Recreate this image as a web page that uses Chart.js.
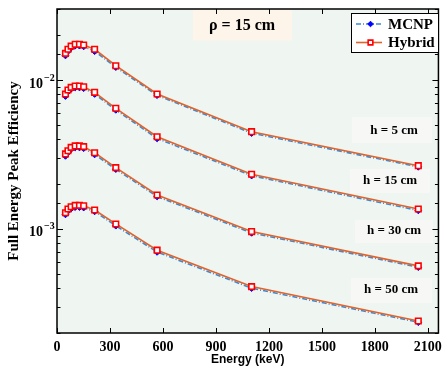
<!DOCTYPE html>
<html>
<head>
<meta charset="utf-8">
<script src="https://cdn.jsdelivr.net/npm/chart.js@4/dist/chart.umd.min.js"></script>
<style>
html, body { margin: 0; padding: 0; background: #fff; }
#wrap { width: 448px; height: 371px; }
</style>
</head>
<body>
<div id="wrap"><canvas id="effChart"></canvas></div>
<script>
// energies (keV) and efficiencies
const energies = [48, 62, 80, 103, 127, 151, 213, 333, 567, 1102, 2046];

const hybrid5  = [0.0151, 0.0161, 0.0169, 0.0174, 0.0174, 0.0172, 0.0161, 0.01248, 0.00806, 0.0045, 0.00266];
const mcnp5    = [0.0146, 0.0156, 0.0165, 0.0170, 0.0170, 0.0168, 0.0156, 0.0122, 0.0079, 0.0044, 0.00261];
const hybrid15 = [0.00805, 0.00857, 0.00893, 0.00911, 0.00911, 0.00902, 0.00827, 0.00646, 0.00416, 0.00233, 0.00136];
const mcnp15   = [0.00780, 0.00835, 0.00872, 0.00890, 0.00890, 0.00880, 0.00805, 0.00630, 0.00405, 0.00228, 0.00133];
const hybrid30 = [0.00319, 0.00335, 0.00353, 0.00361, 0.00361, 0.00357, 0.00325, 0.00258, 0.00169, 0.00096, 0.000565];
const mcnp30   = [0.00309, 0.00326, 0.00344, 0.00352, 0.00352, 0.00348, 0.00316, 0.00252, 0.00165, 0.00094, 0.000553];
const hybrid50 = [0.001285, 0.00136, 0.00141, 0.00144, 0.00144, 0.00143, 0.00134, 0.00108, 0.00072, 0.00041, 0.000241];
const mcnp50   = [0.00125, 0.00132, 0.00137, 0.00140, 0.00140, 0.00139, 0.00131, 0.00105, 0.00070, 0.000400, 0.000236];

const xTicks = [0, 300, 600, 900, 1200, 1500, 1800, 2100];
const seriesNames = ['MCNP', 'Hybrid'];
const heightLabels = ['h = 5 cm', 'h = 15 cm', 'h = 30 cm', 'h = 50 cm'];
const titleLabel = '\u03c1 = 15 cm';

const SERIF = '"Liberation Serif", "Times New Roman", serif';
const orange = '#e2622a';
const blueLine = '#3b8ad2';

function pts(ys) {
    return energies.map((e, i) => ({x: e, y: ys[i]}));
}
function hybridSet(ys) {
    return {
        label: 'Hybrid', data: pts(ys),
        borderColor: orange, borderWidth: 1.6,
        pointStyle: 'rect', pointRadius: 3.9,
        pointBorderColor: '#ff0000', pointBackgroundColor: '#ffffff', pointBorderWidth: 1.6
    };
}
function mcnpSet(ys) {
    return {
        label: 'MCNP', data: pts(ys),
        borderColor: blueLine, borderWidth: 1.6, borderDash: [5, 2, 1, 2],
        pointStyle: 'rectRot', pointRadius: 3.3,
        pointBorderColor: '#0000ff', pointBackgroundColor: '#0000ff', pointBorderWidth: 1
    };
}

// frame, inner ticks, text boxes and legend
const decor = {
    id: 'decor',
    beforeDraw(chart) {
        const {ctx, chartArea: a} = chart;
        ctx.save();
        ctx.fillStyle = '#eff5f1';
        ctx.fillRect(a.left, a.top, a.right - a.left, a.bottom - a.top);
        ctx.restore();
    },
    beforeDatasetsDraw(chart) {
        const {ctx, chartArea: a} = chart;
        ctx.save();
        // rho box
        ctx.fillStyle = '#fdf4ea';
        ctx.fillRect(193, a.top + 0.5, 99, 31);
        ctx.fillStyle = '#000';
        ctx.font = 'bold 16px ' + SERIF;
        ctx.textAlign = 'center';
        ctx.textBaseline = 'middle';
        ctx.fillText(titleLabel, 242, 26);
        // h boxes
        const boxes = [[352, 117, 80, 26, 394, 131], [350, 169, 80, 24, 390, 181],
                       [355, 220, 78, 23, 394, 231], [351, 278, 81, 25, 391, 290]];
        ctx.font = 'bold 13px ' + SERIF;
        boxes.forEach((b, i) => {
            ctx.fillStyle = '#f7f8f6';
            ctx.fillRect(b[0], b[1], b[2], b[3]);
            ctx.fillStyle = '#000';
            ctx.fillText(heightLabels[i], b[4], b[5]);
        });
        ctx.restore();
    },
    afterDraw(chart) {
        const {ctx, chartArea: a, scales} = chart;
        ctx.save();
        ctx.strokeStyle = '#000';
        ctx.lineWidth = 1;
        ctx.beginPath();
        // x ticks inside, bottom and top
        xTicks.forEach(v => {
            const x = Math.round(scales.x.getPixelForValue(v)) + 0.5;
            ctx.moveTo(x, a.bottom); ctx.lineTo(x, a.bottom - 5);
            ctx.moveTo(x, a.top); ctx.lineTo(x, a.top + 5);
        });
        // y ticks inside, left and right
        scales.y.ticks.forEach(t => {
            const y = Math.round(scales.y.getPixelForValue(t.value)) + 0.5;
            const major = Math.abs(Math.log10(t.value) - Math.round(Math.log10(t.value))) < 1e-6;
            const len = major ? 6 : 3.5;
            ctx.moveTo(a.left, y); ctx.lineTo(a.left + len, y);
            ctx.moveTo(a.right, y); ctx.lineTo(a.right - len, y);
        });
        ctx.stroke();
        // frame
        ctx.lineWidth = 1.5;
        ctx.strokeRect(a.left, a.top, a.right - a.left, a.bottom - a.top);

        // y labels 10^n
        ctx.fillStyle = '#000';
        scales.y.ticks.forEach(t => {
            const p = Math.log10(t.value);
            if (Math.abs(p - Math.round(p)) > 1e-6) return;
            const y = scales.y.getPixelForValue(t.value);
            ctx.font = 'bold 14px ' + SERIF;
            ctx.textAlign = 'right';
            ctx.textBaseline = 'alphabetic';
            ctx.fillText('10', 43, y + 7.5);
            ctx.font = 'bold 10px ' + SERIF;
            ctx.textAlign = 'left';
            ctx.fillText('\u2212' + Math.abs(Math.round(p)), 44, y + 0.5);
        });

        // legend
        ctx.fillStyle = '#fff';
        ctx.fillRect(351, 13, 87, 39);
        ctx.lineWidth = 1;
        ctx.strokeRect(351.5, 13.5, 87, 39);
        const ds = chart.data.datasets;
        const items = seriesNames.map(n => ds.find(d => d.label === n));
        items.forEach((d, i) => {
            const y = 24 + i * 18.5;
            ctx.strokeStyle = d.borderColor;
            ctx.lineWidth = d.borderWidth;
            ctx.setLineDash(d.borderDash || []);
            ctx.beginPath();
            ctx.moveTo(356, y); ctx.lineTo(382, y);
            ctx.stroke();
            ctx.setLineDash([]);
            ctx.lineWidth = d.pointBorderWidth;
            ctx.fillStyle = d.pointBackgroundColor;
            ctx.strokeStyle = d.pointBorderColor;
            Chart.helpers.drawPoint(ctx, {
                pointStyle: d.pointStyle, radius: d.pointRadius * 0.85, borderWidth: d.pointBorderWidth
            }, 370.5, y);
            ctx.fillStyle = '#000';
            ctx.font = 'bold 15px ' + SERIF;
            ctx.textAlign = 'left';
            ctx.textBaseline = 'middle';
            ctx.fillText(d.label, 388, y + 1);
        });
        ctx.restore();
    }
};

const effChart = new Chart(document.getElementById('effChart'), {
    type: 'line',
    data: {
        datasets: [
            hybridSet(hybrid5), hybridSet(hybrid15), hybridSet(hybrid30), hybridSet(hybrid50),
            mcnpSet(mcnp5), mcnpSet(mcnp15), mcnpSet(mcnp30), mcnpSet(mcnp50)
        ]
    },
    options: {
        responsive: true,
        maintainAspectRatio: false,
        animation: false,
        layout: { padding: { left: 0, right: 5, top: 9, bottom: 0 } },
        plugins: { legend: { display: false }, tooltip: { enabled: false } },
        scales: {
            x: {
                type: 'linear', min: 0, max: 2160,
                afterBuildTicks: s => { s.ticks = xTicks.map(v => ({value: v})); },
                afterFit: s => { s.height = 38; },
                grid: { display: false, drawTicks: false },
                border: { display: false },
                ticks: {
                    color: '#000', padding: 6, maxRotation: 0,
                    font: { family: SERIF, size: 14, weight: 'bold' },
                    callback: v => String(v)
                },
                title: {
                    display: true, text: 'Energy (keV)', color: '#000',
                    font: { family: '"Liberation Sans", Arial, sans-serif', size: 12, weight: 'bold' },
                    padding: { top: 0, bottom: 4 }
                }
            },
            y: {
                type: 'logarithmic', min: 0.0002, max: 0.03,
                afterFit: s => { s.width = 57; },
                grid: { display: false, drawTicks: false },
                border: { display: false },
                ticks: { display: false },
                title: {
                    display: true, text: 'Full Energy Peak Efficiency', color: '#000',
                    font: { family: SERIF, size: 15, weight: 'bold' },
                    padding: { top: 5, bottom: 0 }
                }
            }
        }
    },
    plugins: [decor]
});
</script>
</body>
</html>
